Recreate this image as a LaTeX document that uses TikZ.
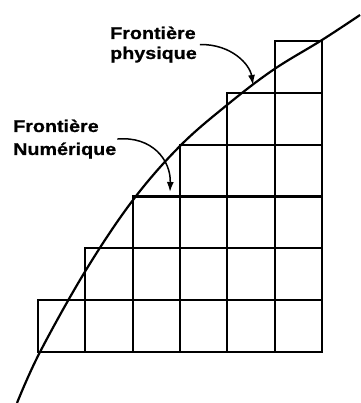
\documentclass[tikz,border=0pt]{standalone}
\usepackage{graphicx}
\usepackage{fontspec}
\setmainfont{Liberation Sans}
\newfontfamily\labfont[FakeBold=0.8]{Liberation Sans Bold}
\newcommand{\lblwide}[1]{\scalebox{1.16}[1]{#1}}
\usetikzlibrary{arrows.meta}
\tikzset{
  cell/.style={draw=black, line width=2.1pt},
  frontier/.style={draw=black, line width=2.2pt},
  lab/.style={inner sep=0pt, align=left, anchor=base west},
  pointer/.style={draw=black, line width=1.5pt, -{Latex[length=10pt,width=7pt]}}
}
\begin{document}
\begin{tikzpicture}[x=1pt,y=-1pt]
\useasboundingbox (0,0) rectangle (360,403);
% staircase grid
\foreach \k in {0,...,5}{
  \foreach \c in {\k,...,5}{
    \draw[cell] ({38+47.33*\c},{352-51.83*\k}) rectangle ({38+47.33*(\c+1)},{352-51.83*(\k+1)});
  }
}
% physical frontier
\draw[frontier] plot[smooth, tension=0.6] coordinates {(17,403) (40,352) (86,270) (133,200) (180,146) (227,105) (273,70) (322,40) (360,15)};
% labels
\node[lab, font=\fontsize{17}{20}\selectfont\labfont] (lp) at (110,59) {\lblwide{Frontière}\\\lblwide{physique}};
\node[lab, font=\fontsize{17}{23}\selectfont\labfont] (ln) at (13,155) {\lblwide{Frontière}\\\lblwide{Numérique}};
\coordinate (tP) at (253,85);
\coordinate (tN) at (170,192);
\draw[pointer] ([xshift=3pt]lp.east) .. controls (232,44) and (250,65) .. (tP);
\draw[pointer] ([xshift=1pt]ln.east) .. controls (152,136) and (171,160) .. (tN);
\end{tikzpicture}
\end{document}
